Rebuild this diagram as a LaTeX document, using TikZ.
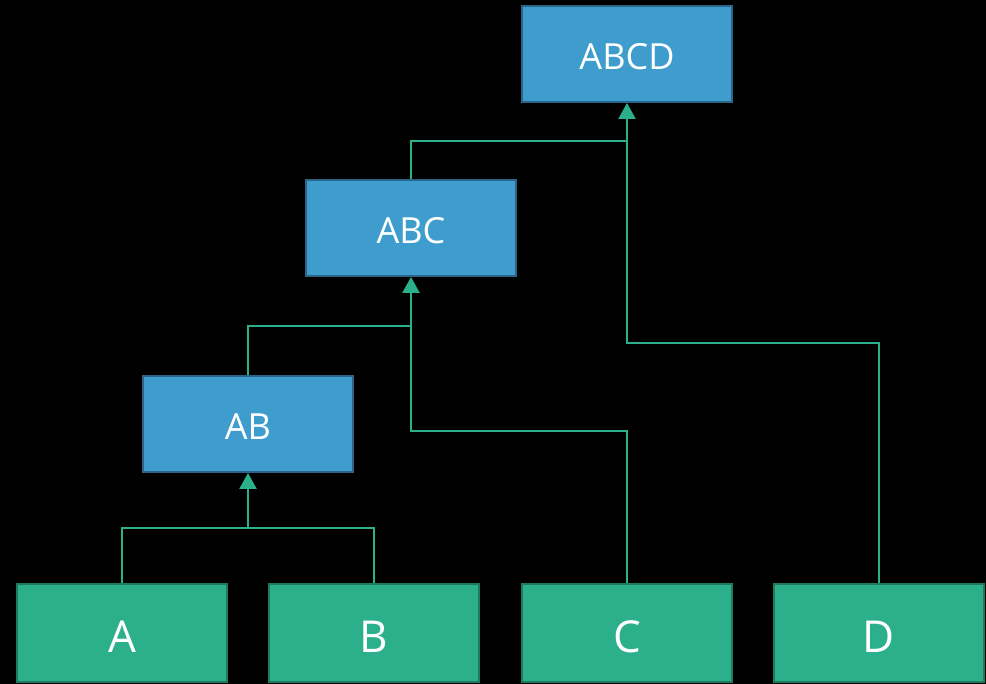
\documentclass[tikz,border=0pt]{standalone}
\usepackage{fontspec}
\setmainfont{Open Sans}
\usetikzlibrary{arrows.meta}
\definecolor{leaffill}{HTML}{2BB08B}
\definecolor{leafedge}{HTML}{1F7A5F}
\definecolor{mergefill}{HTML}{3F9DCE}
\definecolor{mergeedge}{HTML}{2A6488}
\definecolor{linkcol}{HTML}{2BB08B}
\begin{document}
\begin{tikzpicture}[x=1pt,y=-1pt,
  leafbox/.style={draw=leafedge, fill=leaffill, line width=2.5pt, minimum width=210pt, minimum height=98pt, inner sep=0pt, text height=38pt, text depth=0pt, text=white, font=\fontsize{44}{48}\selectfont},
  mergebox/.style={draw=mergeedge, fill=mergefill, line width=2pt, minimum width=210pt, minimum height=96pt, inner sep=0pt, text height=32pt, text depth=0pt, text=white, font=\fontsize{36}{40}\selectfont},
  link/.style={draw=linkcol, line width=2.5pt},
  linkarrow/.style={link, -{Triangle[width=17pt,length=16pt]}}]
\fill[black] (0,0) rectangle (986,684);
\useasboundingbox (0,0) rectangle (986,684);
% leaves
\node[leafbox] (a) at (122,633) {A};
\node[leafbox] (b) at (374,633) {B};
\node[leafbox] (c) at (627,633) {C};
\node[leafbox] (d) at (879,633) {D};
% merged sets
\node[mergebox] (ab) at (248,424) {AB};
\node[mergebox] (abc) at (411,228) {ABC};
\node[mergebox] (abcd) at (627,54) {ABCD};
% junction points
\coordinate (jab) at (248,528);
\coordinate (jabc) at (411,326);
\coordinate (jabcd) at (627,141);
% A + B -> AB
\draw[link] (a.north) |- (jab) -| (b.north);
\draw[linkarrow] (jab) -- (ab.south);
% AB + C -> ABC
\draw[link] (ab.north) |- (jabc);
\draw[link] (c.north) |- (411,431) -- (jabc);
\draw[linkarrow] (jabc) -- (abc.south);
% ABC + D -> ABCD
\draw[link] (abc.north) |- (jabcd);
\draw[link] (d.north) |- (627,343) -- (jabcd);
\draw[linkarrow] (jabcd) -- (abcd.south);
\end{tikzpicture}
\end{document}
